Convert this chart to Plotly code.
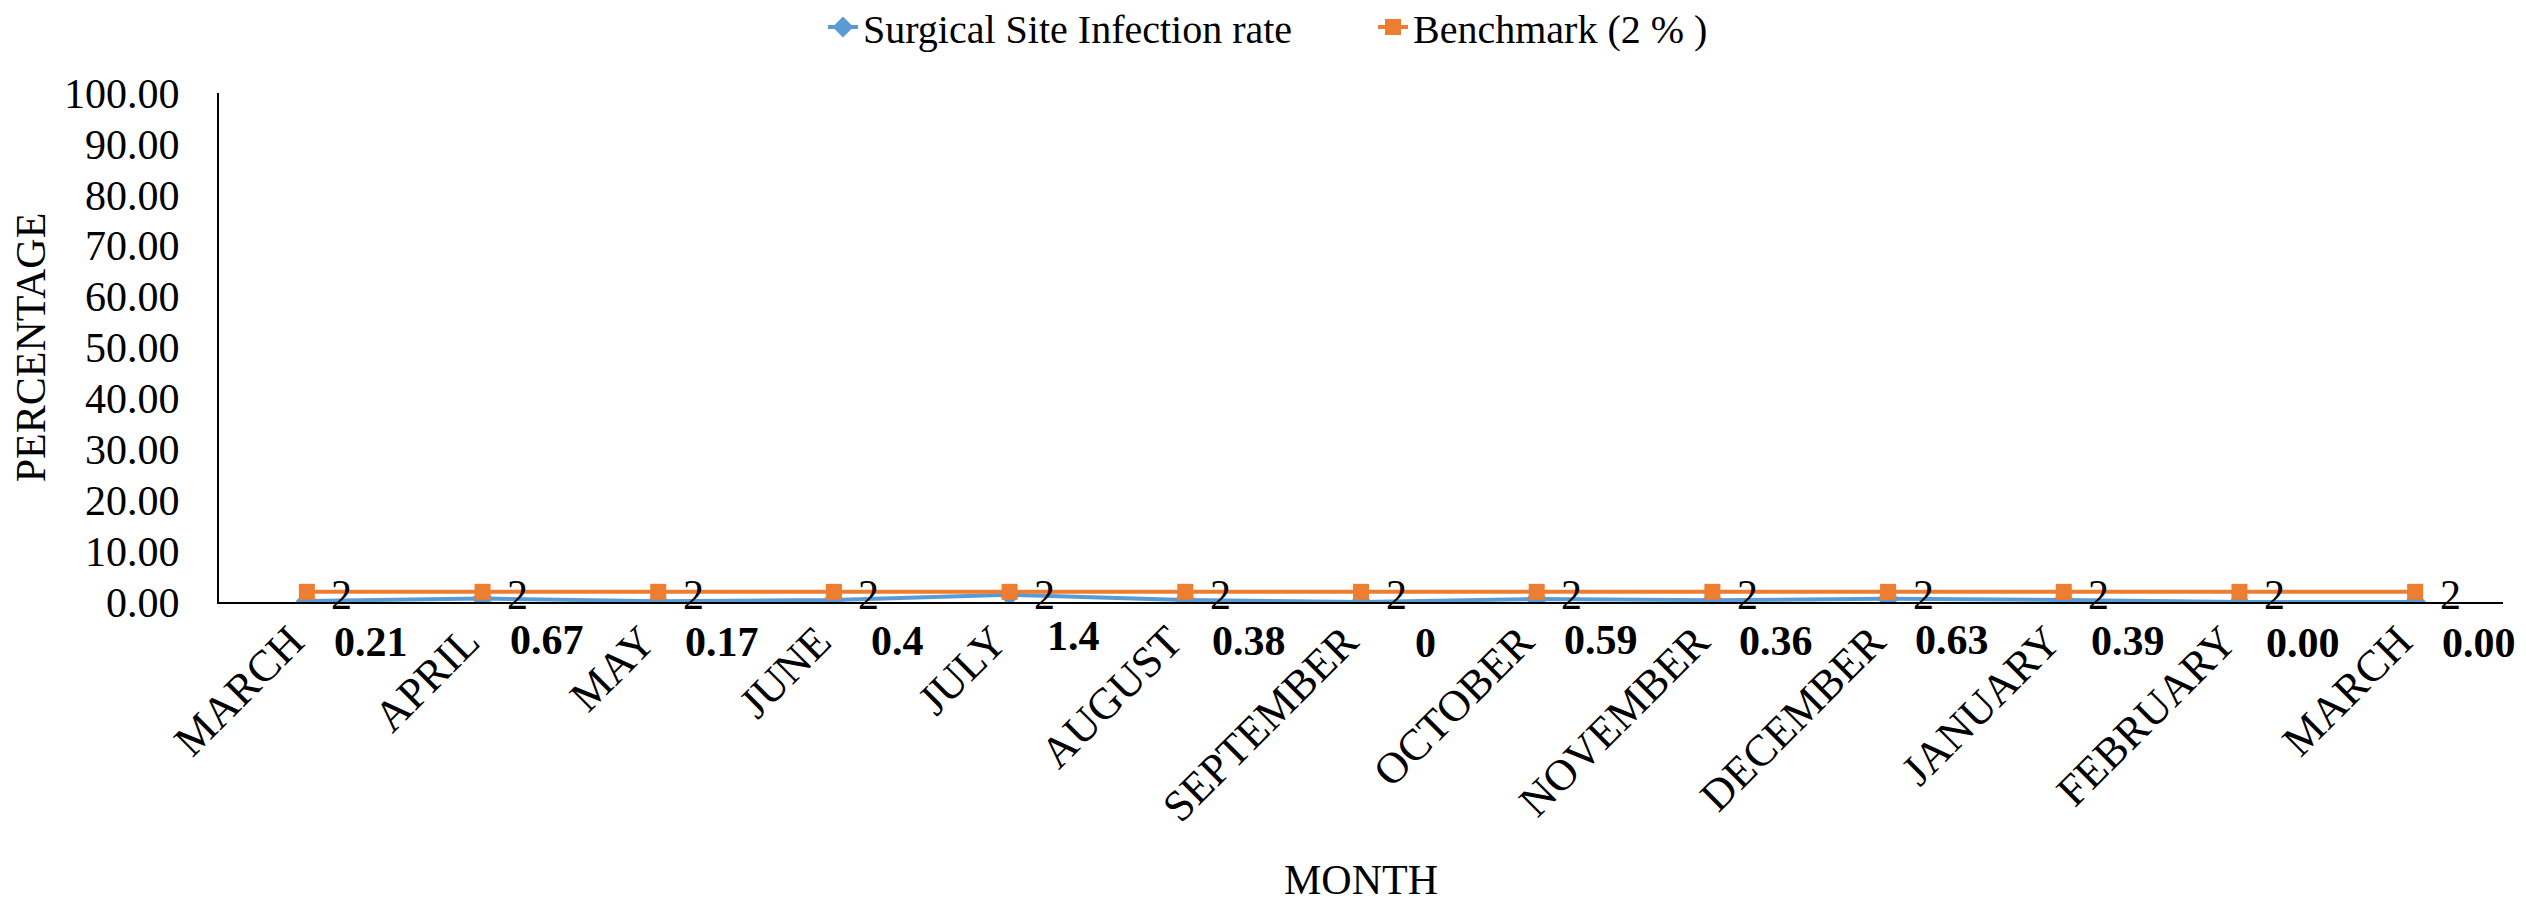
import plotly.graph_objects as go

months = ["MARCH", "APRIL", "MAY", "JUNE", "JULY", "AUGUST", "SEPTEMBER",
          "OCTOBER", "NOVEMBER", "DECEMBER", "JANUARY", "FEBRUARY", "MARCH"]
ssi_rate = [0.21, 0.67, 0.17, 0.4, 1.4, 0.38, 0, 0.59, 0.36, 0.63, 0.39, 0.00, 0.00]
ssi_labels = ["0.21", "0.67", "0.17", "0.4", "1.4", "0.38", "0", "0.59", "0.36",
              "0.63", "0.39", "0.00", "0.00"]
benchmark = [2, 2, 2, 2, 2, 2, 2, 2, 2, 2, 2, 2, 2]
bench_labels = ["2"] * 13
y_ticks = [0, 10, 20, 30, 40, 50, 60, 70, 80, 90, 100]

xpos = list(range(len(months)))
FONT = "Liberation Serif, Times New Roman, serif"
BLUE = "#5B9BD5"
ORANGE = "#ED7D31"

fig = go.Figure()
fig.add_trace(go.Scatter(
    x=xpos, y=ssi_rate, mode="lines+markers", name="Surgical Site Infection rate",
    line=dict(color=BLUE, width=4),
    marker=dict(symbol="diamond", size=17, color=BLUE),
))
fig.add_trace(go.Scatter(
    x=xpos, y=benchmark, mode="lines+markers", name="Benchmark (2 % )",
    line=dict(color=ORANGE, width=4),
    marker=dict(symbol="square", size=16, color=ORANGE),
))

annotations = []
for xi, v, t in zip(xpos, ssi_rate, ssi_labels):
    annotations.append(dict(x=xi, y=v, text=f"<b>{t}</b>", showarrow=False,
                            xanchor="center", yanchor="middle", xshift=64, yshift=-41,
                            font=dict(family=FONT, size=42, color="black")))
for xi, v, t in zip(xpos, benchmark, bench_labels):
    annotations.append(dict(x=xi, y=v, text=t, showarrow=False,
                            xanchor="center", yanchor="middle", xshift=35, yshift=-3,
                            font=dict(family=FONT, size=42, color="black")))

W, H = 2510, 895
fig.update_layout(
    width=W, height=H,
    paper_bgcolor="white", plot_bgcolor="white",
    margin=dict(l=211, r=15, t=85, b=301, autoexpand=False),
    font=dict(family=FONT, size=42, color="black"),
    showlegend=True,
    legend=dict(orientation="h", x=0.5 + 110 / W, xanchor="center", xref="container",
                y=1 - 19 / H, yanchor="middle", yref="container",
                font=dict(family=FONT, size=40, color="black"),
                entrywidth=505, entrywidthmode="pixels",
                bgcolor="rgba(0,0,0,0)"),
    annotations=annotations,
)
fig.update_xaxes(
    range=[-0.5, 12.5], tickmode="array", tickvals=xpos, ticktext=months,
    tickangle=-45, showgrid=False, zeroline=False,
    showline=True, linecolor="black", linewidth=2, ticks="",
    ticklabelshift=-16, ticklabelstandoff=-6,
    tickfont=dict(family=FONT, size=44, color="black"),
    title=dict(text="MONTH", standoff=122, font=dict(family=FONT, size=42, color="black")),
    automargin=False,
)
fig.update_yaxes(
    range=[0, 100], tickmode="array", tickvals=y_ticks,
    ticktext=[f"{v:.2f}" for v in y_ticks],
    showgrid=False, zeroline=False,
    showline=True, linecolor="black", linewidth=2, ticks="",
    ticklabelstandoff=29,
    tickfont=dict(family=FONT, size=42, color="black"),
    title=dict(text="PERCENTAGE", standoff=14, font=dict(family=FONT, size=42, color="black")),
    automargin=False,
)

fig.write_html("out.html")
